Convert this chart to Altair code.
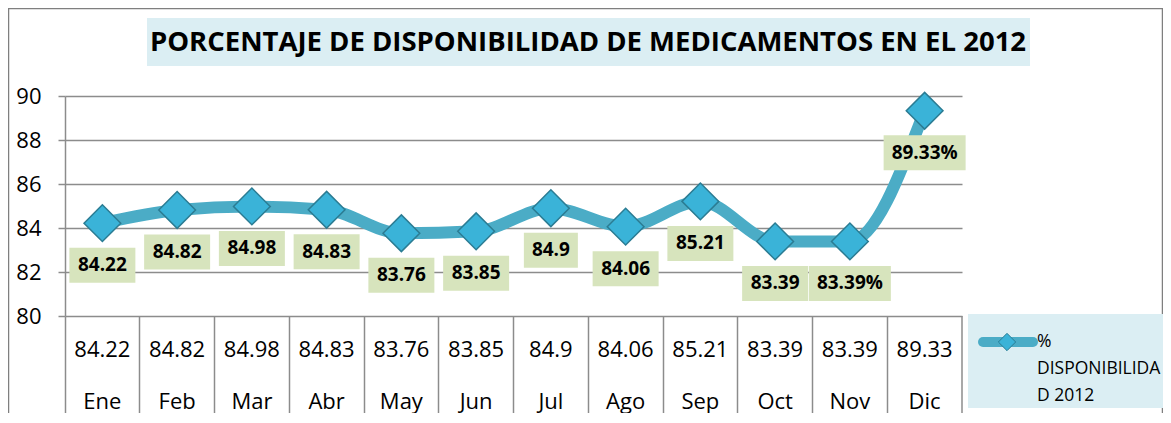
import altair as alt
import pandas as pd

MONTHS = ["Ene", "Feb", "Mar", "Abr", "May", "Jun", "Jul", "Ago", "Sep", "Oct", "Nov", "Dic"]
VALUES = [84.22, 84.82, 84.98, 84.83, 83.76, 83.85, 84.9, 84.06, 85.21, 83.39, 83.39, 89.33]
TABLE_TEXT = ["84.22", "84.82", "84.98", "84.83", "83.76", "83.85", "84.9", "84.06", "85.21", "83.39", "83.39", "89.33"]
POINT_LABELS = ["84.22", "84.82", "84.98", "84.83", "83.76", "83.85", "84.9", "84.06", "85.21", "83.39", "83.39%", "89.33%"]
Y_TICKS = [80, 82, 84, 86, 88, 90]
TITLE = "PORCENTAJE DE DISPONIBILIDAD DE MEDICAMENTOS EN EL 2012"
LEGEND_LINES = ["%", "DISPONIBILIDA", "D 2012"]

W, H = 897, 220
FONT = "Open Sans"
GRID = "#8c8c8c"
LINE_C = "#4BACC6"
BOX_BLUE = "#DBEEF3"
BOX_GREEN = "#D7E4BD"

df = pd.DataFrame({
    "axis": [f"{t}|{m}" for t, m in zip(TABLE_TEXT, MONTHS)],
    "value": VALUES,
    "label": POINT_LABELS,
})
df["len"] = df["label"].str.len()

x_order = list(df["axis"])
x_enc = alt.X(
    "axis:N", sort=x_order, title=None,
    scale=alt.Scale(type="band", paddingInner=0, paddingOuter=0),
    axis=alt.Axis(
        labelExpr="split(datum.label, '|')", labelFont=FONT, labelFontSize=22,
        labelColor="black", labelLineHeight=52, labelAngle=0, labelBaseline="top",
        labelPadding=-74, tickSize=97, tickColor=GRID, tickWidth=1.5,
        bandPosition=0, domain=False, grid=False,
    ),
)
y_enc = alt.Y(
    "value:Q", title=None,
    scale=alt.Scale(domain=[80, 90], nice=False, zero=False),
    axis=alt.Axis(
        values=Y_TICKS, labelFont=FONT, labelFontSize=22, labelColor="black",
        tickSize=7, tickColor=GRID, tickWidth=1.5, labelPadding=17,
        gridColor=GRID, gridWidth=1.5, domainColor=GRID, domainWidth=1.5,
    ),
)

base = alt.Chart(df)

line = base.mark_line(color=LINE_C, strokeWidth=12, interpolate="monotone").encode(
    x=alt.X("axis:N", sort=x_order, bandPosition=0.5), y="value:Q"
)
points = base.mark_point(
    shape="diamond", filled=True, size=1350, fill="#3AB3D8", stroke="#2B7C93",
    strokeWidth=1.5, opacity=1,
).encode(x=alt.X("axis:N", sort=x_order, bandPosition=0.5), y="value:Q")

boxes = []
for n, w in [(4, 54), (5, 66), (6, 82)]:
    boxes.append(
        base.transform_filter(alt.datum.len == n)
        .mark_rect(width=w, height=35, yOffset=42, color=BOX_GREEN)
        .encode(x=alt.X("axis:N", sort=x_order, bandPosition=0.5), y="value:Q")
    )

labels = base.mark_text(
    font=FONT, fontSize=19, fontWeight="bold", color="black", dy=42
).encode(x=alt.X("axis:N", sort=x_order, bandPosition=0.5), y="value:Q", text="label:N")

one = pd.DataFrame({"t": [TITLE]})
frame = alt.Chart(one).mark_rect(fill=None, stroke="#7f7f7f", strokeWidth=1.5).encode(
    x=alt.value(-56.5), x2=alt.value(1097.5), y=alt.value(-87.5), y2=alt.value(340)
)
right_rule = alt.Chart(one).mark_rule(color=GRID, strokeWidth=1.5).encode(
    x=alt.value(W), y=alt.value(H), y2=alt.value(H + 97)
)
title_box = alt.Chart(one).mark_rect(color=BOX_BLUE).encode(
    x=alt.value(82), x2=alt.value(965), y=alt.value(-78), y2=alt.value(-30)
)
title_text = alt.Chart(one).mark_text(
    font=FONT, fontSize=27.5, fontWeight="bold", color="black", baseline="middle"
).encode(x=alt.value(523), y=alt.value(-53), text="t:N")

leg = pd.DataFrame({"t": ["\n".join(LEGEND_LINES)]})
leg_box = alt.Chart(leg).mark_rect(color=BOX_BLUE).encode(
    x=alt.value(903), x2=alt.value(1105), y=alt.value(218), y2=alt.value(312)
)
leg_line = alt.Chart(leg).mark_rule(color=LINE_C, strokeWidth=10, strokeCap="round").encode(
    x=alt.value(918), x2=alt.value(968), y=alt.value(246)
)
leg_pt = alt.Chart(leg).mark_point(
    shape="diamond", filled=True, size=300, fill="#3AB3D8", stroke="#2B7C93",
    strokeWidth=1, opacity=1,
).encode(x=alt.value(942), y=alt.value(246))
leg_text = alt.Chart(leg).mark_text(
    font=FONT, fontSize=17.5, color="black", align="left", baseline="middle",
    lineBreak="\n", lineHeight=27,
).encode(x=alt.value(972), y=alt.value(246), text="t:N")

main = alt.layer(line, points, *boxes, labels).encode(x=x_enc, y=y_enc)

chart = alt.layer(
    frame, title_box, title_text, right_rule, main, leg_box, leg_line, leg_pt, leg_text
).properties(
    width=W, height=H,
    autosize=alt.AutoSizeParams(type="none"),
    padding={"left": 57, "top": 88, "right": 201, "bottom": 97},
).configure_view(stroke=None)

chart.save("out.html", embed_options={"renderer": "svg", "actions": False})
